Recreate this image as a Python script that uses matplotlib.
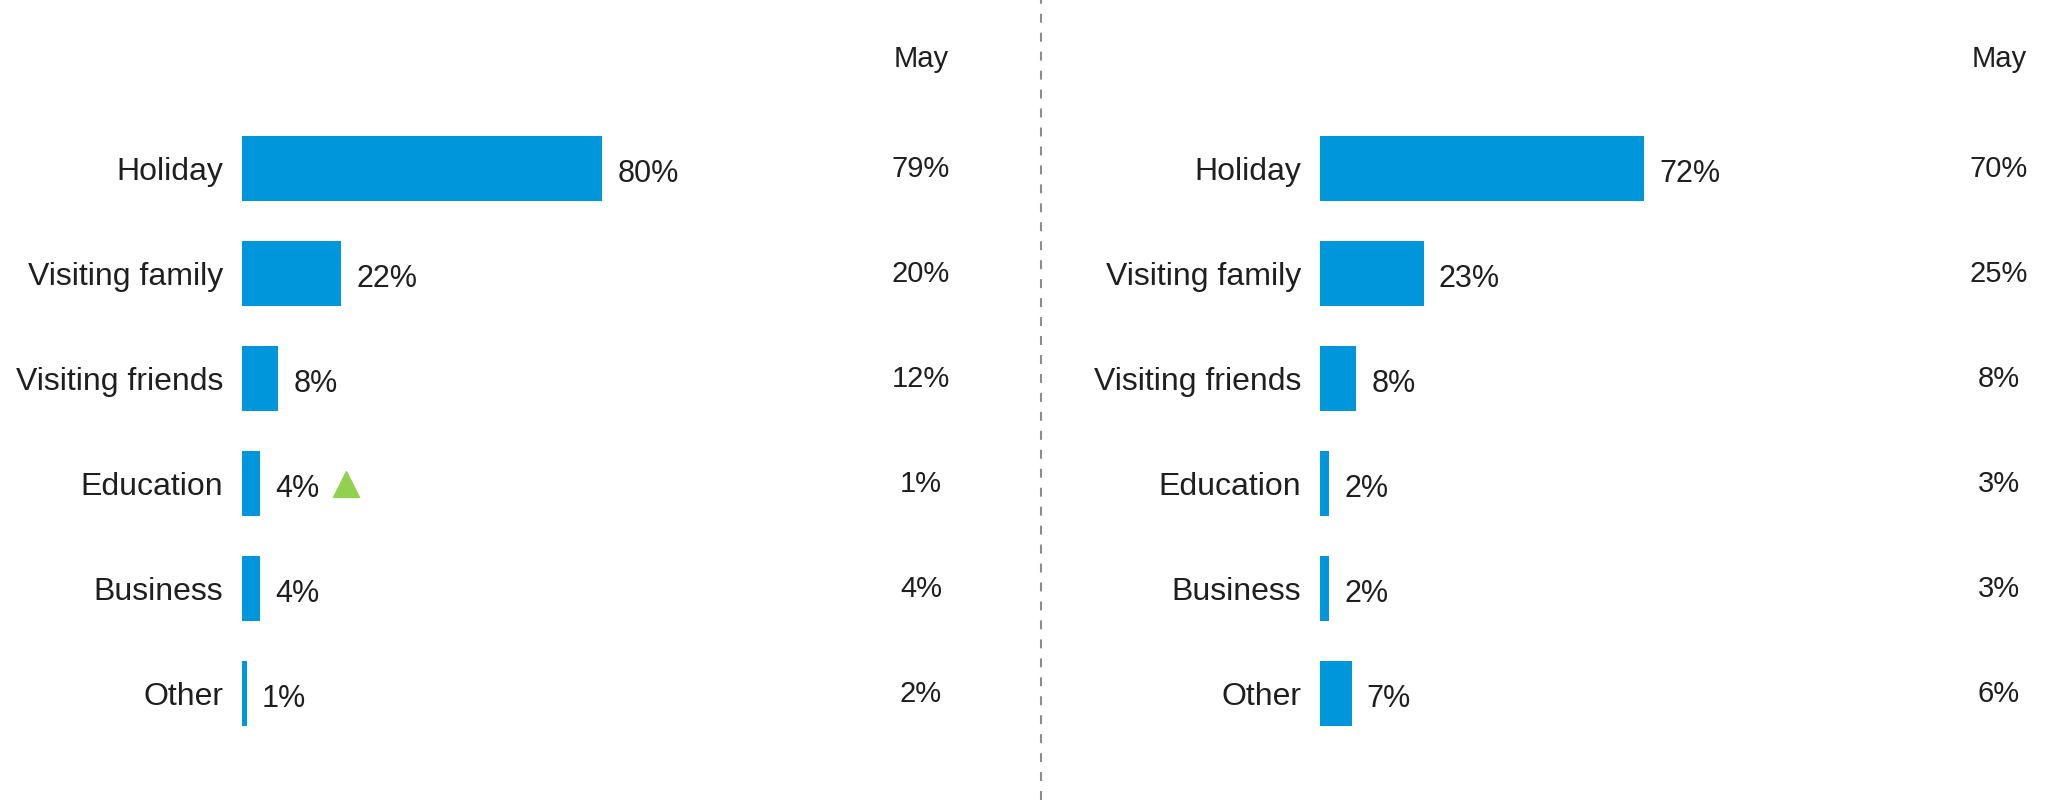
import numpy as np
import matplotlib.pyplot as plt
from matplotlib.lines import Line2D
from matplotlib.transforms import ScaledTranslation, blended_transform_factory

plt.rcParams['font.family'] = ['Liberation Sans', 'DejaVu Sans']

# data
categories = ['Holiday', 'Visiting family', 'Visiting friends', 'Education', 'Business', 'Other']
left_values = [80, 22, 8, 4, 4, 1]
left_may = [79, 20, 12, 1, 4, 2]
left_up = [False, False, False, True, False, False]
right_values = [72, 23, 8, 2, 2, 7]
right_may = [70, 25, 8, 3, 3, 6]
right_up = [False, False, False, False, False, False]
may_label = 'May'

W, H = 2049, 800
bar_color = '#0096DC'
text_color = '#1f1f1f'
up_color = '#92D050'
px_per_pct = 4.5
row_px = 105
first_row_px = 168.6

fig = plt.figure(figsize=(W / 100, H / 100), dpi=100)


def panel(x0_px, x1_px, may_x_px, values, may, up):
    ax = fig.add_axes([x0_px / W, 0, (x1_px - x0_px) / W, 1])
    rows = np.arange(len(categories))
    ax.barh(rows, values, height=0.62, color=bar_color)
    ax.set_xlim(0, (x1_px - x0_px) / px_per_pct)
    top = -first_row_px / row_px
    ax.set_ylim(top + H / row_px, top)
    ax.set_yticks(rows, categories)
    ax.tick_params(axis='y', length=0, pad=13.5, labelsize=23, labelcolor=text_color)
    ax.set_xticks([])
    for s in ax.spines.values():
        s.set_visible(False)
    ax.patch.set_alpha(0)

    for r, v in zip(rows, values):
        ax.annotate(f'{v}%', xy=(v, r), xytext=(11, -4), textcoords='offset points',
                    va='center', ha='left', fontsize=22, color=text_color)
    # comparison column
    tr = blended_transform_factory(fig.transFigure, ax.transData)
    for r, m in zip(rows, may):
        ax.text(may_x_px / W, r, f'{m}%', transform=tr, ha='center', va='center',
                fontsize=21, color=text_color)
    fig.text(may_x_px / W, 1 - 59 / H, may_label, ha='center', va='center',
             fontsize=21, color=text_color)
    # significance markers
    for r, v, u in zip(rows, values, up):
        if u:
            off = ScaledTranslation(62 / 72, 0, fig.dpi_scale_trans)
            ax.plot(v, r, marker='^', markersize=19, color=up_color, linestyle='none',
                    transform=ax.transData + off, clip_on=False)
    return ax


panel(242, 1000, 921, left_values, left_may, left_up)
panel(1320, 2049, 1999, right_values, right_may, right_up)

fig.add_artist(Line2D([1041 / W, 1041 / W], [0, 1], transform=fig.transFigure,
                      color='#8c8c8c', lw=1.5, linestyle=(0, (4.3, 4.8))))

fig.savefig('out.png', dpi=100, facecolor='white')
